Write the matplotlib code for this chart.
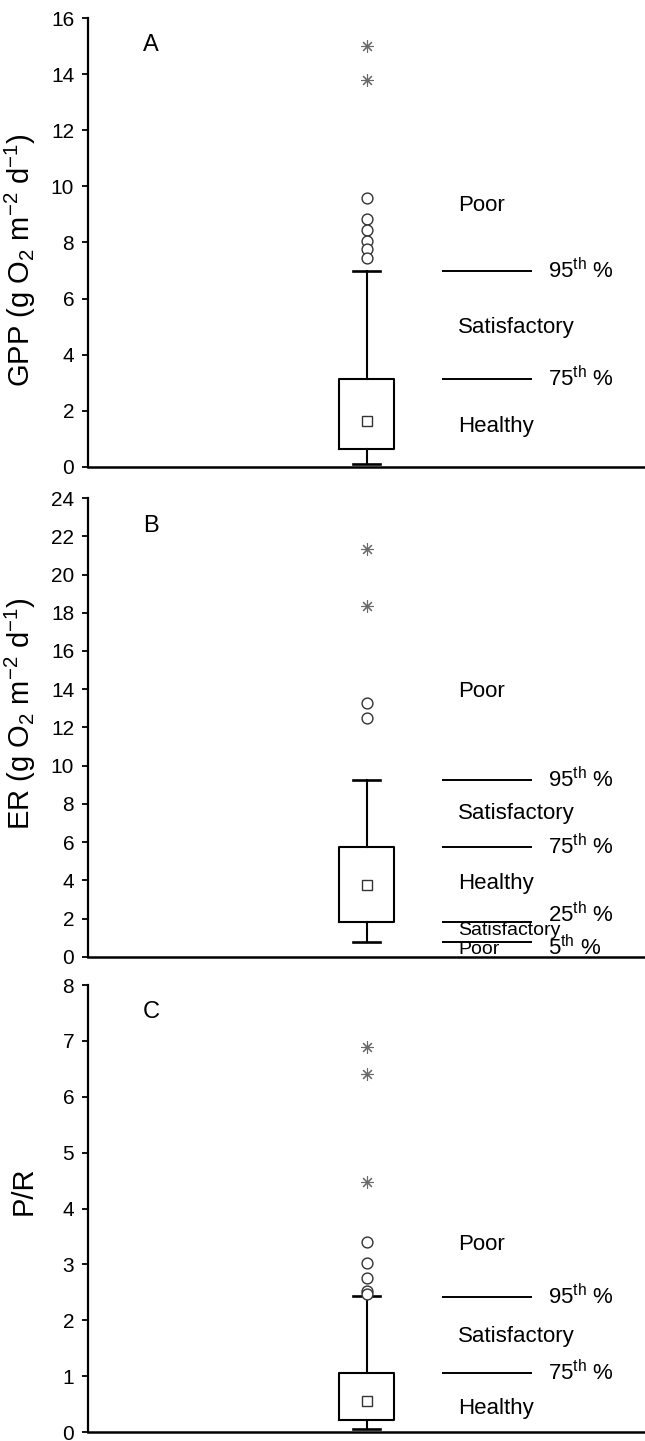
import matplotlib
matplotlib.use("Agg")
import matplotlib.pyplot as plt

plt.rcParams['font.family'] = ['Liberation Sans', 'DejaVu Sans']
plt.rcParams['mathtext.default'] = 'regular'

# --- data ---
panels = ['A', 'B', 'C']
ylabels = ['GPP (g O$_2$ m$^{-2}$ d$^{-1}$)',
           'ER (g O$_2$ m$^{-2}$ d$^{-1}$)',
           'P/R']
ymax = [16, 24, 8]
ystep = [2, 2, 1]

q1 = [0.65, 1.85, 0.22]
q3 = [3.15, 5.75, 1.06]
means = [1.65, 3.75, 0.55]
whis_lo = [0.1, 0.8, 0.05]
whis_hi = [7.0, 9.25, 2.43]

outliers_A = [9.6, 8.85, 8.45, 8.05, 7.75, 7.45]
outliers_B = [13.3, 12.5]
outliers_C = [3.4, 3.03, 2.76, 2.52, 2.47]
extremes_A = [15.0, 13.8]
extremes_B = [21.35, 18.35]
extremes_C = [6.9, 6.4, 4.47]

# percentile threshold lines
pct_A = {'95': 7.0, '75': 3.15}
pct_B = {'95': 9.25, '75': 5.75, '25': 1.85, '5': 0.8}
pct_C = {'95': 2.42, '75': 1.06}

# condition zones (label, y position)
zones_A = [('Poor', 9.33), ('Satisfactory', 4.98), ('Healthy', 1.45)]
zones_B = [('Poor', 13.9), ('Satisfactory', 7.5), ('Healthy', 3.85)]
zones_B_small = [('Satisfactory', 1.38), ('Poor', 0.38)]
zones_C = [('Poor', 3.35), ('Satisfactory', 1.71), ('Healthy', 0.43)]

# y offsets of the percentile labels relative to their line
pct_label_shift = {'95': 0.0, '75': 0.0, '25': 0.35, '5': -0.3}

outliers = [outliers_A, outliers_B, outliers_C]
extremes = [extremes_A, extremes_B, extremes_C]
pcts = [pct_A, pct_B, pct_C]
zones = [zones_A, zones_B, zones_C]

# axes rectangles (figure fraction) and y-label vertical placement
rects = [[0.1365, 0.676, 0.8635, 0.3115],
         [0.1365, 0.3359, 0.8635, 0.3185],
         [0.1365, 0.0062, 0.8635, 0.3102]]
label_y = [0.46, 0.53, 0.54]

fig = plt.figure(figsize=(6.45, 14.41), dpi=100)

for i in range(3):
    ax = fig.add_axes(rects[i])
    stats = [{
        'q1': q1[i], 'q3': q3[i], 'med': means[i], 'mean': means[i],
        'whislo': whis_lo[i], 'whishi': whis_hi[i], 'fliers': [],
    }]
    ax.bxp(stats, positions=[1.0], widths=0.195, capwidths=0.1,
           showmeans=True, showfliers=False,
           boxprops=dict(color='black', linewidth=1.5),
           whiskerprops=dict(color='black', linewidth=1.5),
           capprops=dict(color='black', linewidth=1.9),
           medianprops=dict(linewidth=0),
           meanprops=dict(marker='s', markerfacecolor='white',
                          markeredgecolor='#333333', markersize=7.5,
                          markeredgewidth=1.0))

    # outliers and extremes
    ax.plot([1.0] * len(outliers[i]), outliers[i], linestyle='none',
            marker='o', markersize=7.8, markerfacecolor='white',
            markeredgecolor='#333333', markeredgewidth=1.0, zorder=3)
    ax.plot([1.0] * len(extremes[i]), extremes[i], linestyle='none',
            marker=(8, 2, 0), markersize=9, color='#6a6a6a',
            markeredgewidth=0.8, zorder=3)

    # threshold lines
    for key, val in pcts[i].items():
        ax.hlines(val, 1.27, 1.595, color='black', linewidth=1.4)
        ax.text(1.65, val + pct_label_shift[key],
                key + '$^{th}$ %', fontsize=16, va='center', ha='left')

    for name, yv in zones[i]:
        ax.text(1.33, yv, name, fontsize=16, va='center', ha='left')
    if i == 1:
        for name, yv in zones_B_small:
            ax.text(1.33, yv, name, fontsize=14, va='center', ha='left')

    ax.text(0.197, ymax[i] * 0.94, panels[i], fontsize=17,
            va='center', ha='left')

    ax.set_xlim(0, 2)
    ax.set_ylim(0, ymax[i])
    ax.set_yticks(range(0, ymax[i] + 1, ystep[i]))
    ax.set_xticks([])
    ax.tick_params(axis='y', labelsize=15, length=4, width=1.3, pad=6)
    for side in ['top', 'right']:
        ax.spines[side].set_visible(False)
    ax.spines['left'].set_linewidth(1.6)
    ax.spines['bottom'].set_linewidth(1.8)
    ax.set_ylabel(ylabels[i], fontsize=21)
    ax.yaxis.set_label_coords(-0.09, label_y[i])
    ax.patch.set_alpha(0)

fig.savefig('out.png', dpi=100)
